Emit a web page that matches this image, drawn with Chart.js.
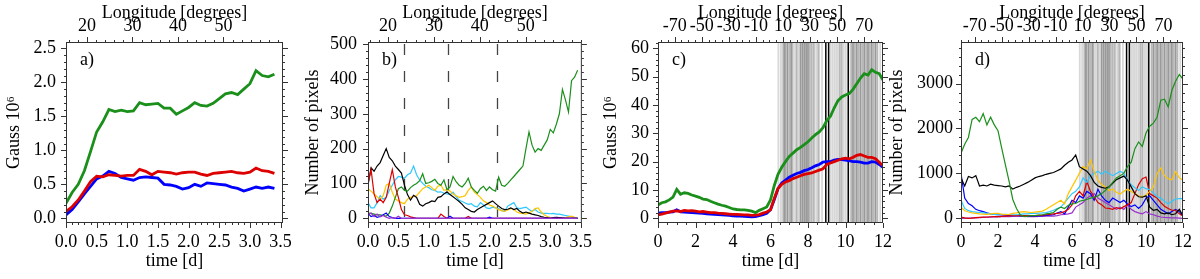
<!DOCTYPE html>
<html>
<head>
<meta charset="utf-8">
<script src="https://cdn.jsdelivr.net/npm/chart.js@4.4.1/dist/chart.umd.min.js"></script>
<style>
    body { margin: 0; background: #fff; width: 1200px; height: 279px; overflow: hidden; position: relative; }
    canvas { position: absolute; top: 0; }
</style>
</head>
<body>
<canvas id="panelA" width="300" height="279" style="left:0"></canvas>
<canvas id="panelB" width="300" height="279" style="left:300px"></canvas>
<canvas id="panelC" width="300" height="279" style="left:600px"></canvas>
<canvas id="panelD" width="315" height="279" style="left:885px"></canvas>
<script>
// Time axes (days)
const timesA = [0.0, 0.1, 0.2, 0.3, 0.4, 0.5, 0.6, 0.7, 0.8, 0.9, 1.0, 1.1, 1.2, 1.3, 1.4, 1.5, 1.6, 1.7,
    1.8, 1.9, 2.0, 2.1, 2.2, 2.3, 2.4, 2.5, 2.6, 2.7, 2.8, 2.9, 3.0, 3.1, 3.2, 3.3, 3.4];
const timesB = [0, 0.05, 0.1, 0.15, 0.2, 0.25, 0.3, 0.35, 0.4, 0.45, 0.5, 0.55, 0.6, 0.65, 0.7, 0.75, 0.8, 0.85,
    0.9, 0.95, 1.0, 1.05, 1.1, 1.15, 1.2, 1.25, 1.3, 1.35, 1.4, 1.45, 1.5, 1.55, 1.6, 1.65, 1.7, 1.75, 1.8, 1.85,
    1.9, 1.95, 2.0, 2.05, 2.1, 2.15, 2.2, 2.25, 2.3, 2.35, 2.4, 2.45, 2.5, 2.55, 2.6, 2.65, 2.7, 2.75, 2.8, 2.85,
    2.9, 2.95, 3.0, 3.05, 3.1, 3.15, 3.2, 3.25, 3.3, 3.35, 3.4, 3.45];
const timesCD = [0, 0.2, 0.4, 0.6, 0.8, 1.0, 1.2, 1.4, 1.6, 1.8, 2.0, 2.2, 2.4, 2.6, 2.8, 3.0, 3.2, 3.4, 3.6, 3.8,
    4.0, 4.2, 4.4, 4.6, 4.8, 5.0, 5.2, 5.4, 5.6, 5.8, 6.0, 6.2, 6.4, 6.6, 6.8, 7.0, 7.2, 7.4, 7.6, 7.8,
    8.0, 8.2, 8.4, 8.6, 8.8, 9.0, 9.2, 9.4, 9.6, 9.8, 10.0, 10.2, 10.4, 10.6, 10.8, 11.0, 11.2, 11.4, 11.6, 11.8, 12.0];

// Panel a) flux, Gauss 10^6
const greenA = [0.22, 0.38, 0.50, 0.70, 0.98, 1.27, 1.42, 1.60, 1.57, 1.59, 1.57, 1.58, 1.70, 1.67, 1.68, 1.69, 1.62, 1.62,
    1.53, 1.58, 1.63, 1.70, 1.66, 1.65, 1.69, 1.76, 1.83, 1.85, 1.82, 1.90, 1.98, 2.17, 2.10, 2.08, 2.12];
const redA = [0.10, 0.17, 0.27, 0.40, 0.54, 0.62, 0.61, 0.64, 0.63, 0.62, 0.63, 0.63, 0.72, 0.69, 0.64, 0.69, 0.68, 0.67,
    0.65, 0.67, 0.68, 0.68, 0.65, 0.63, 0.66, 0.67, 0.68, 0.69, 0.67, 0.66, 0.68, 0.74, 0.70, 0.69, 0.66];
const blueA = [0.05, 0.13, 0.24, 0.36, 0.47, 0.58, 0.62, 0.69, 0.66, 0.60, 0.58, 0.56, 0.60, 0.61, 0.60, 0.59, 0.50, 0.49,
    0.47, 0.43, 0.45, 0.50, 0.47, 0.52, 0.51, 0.50, 0.49, 0.46, 0.44, 0.40, 0.43, 0.46, 0.44, 0.46, 0.44];

// Panel b) number of pixels
const greenB = [15, 14, 12, 10, 10, 8, 6, 15, 35, 60, 85, 90, 80, 78, 88, 95, 100, 108, 128, 100,
    102, 106, 112, 100, 95, 110, 82, 90, 120, 105, 95, 90, 100, 115, 90, 80, 72, 85, 92, 80,
    90, 82, 78, 118, 95, 92, 100, 110, 120, 130, 140, 150, 200, 248, 210, 190, 200, 195, 210, 225,
    255, 245, 270, 300, 370, 340, 305, 395, 405, 425];
const blackB = [95, 145, 135, 150, 160, 180, 200, 175, 165, 150, 140, 130, 95, 68, 52, 66, 60, 40, 35, 42,
    45, 50, 48, 60, 62, 70, 76, 68, 62, 55, 48, 40, 30, 25, 20, 18, 25, 30, 35, 40,
    45, 50, 42, 35, 28, 25, 26, 30, 25, 28, 20, 15, 18, 15, 12, 10, 8, 5, 3, 2,
    0, 2, 3, 2, 1, 0, 0, 0, 0, 0];
const cyanB = [45, 30, 30, 45, 65, 55, 60, 80, 95, 110, 120, 118, 115, 125, 130, 150, 125, 110, 100, 92,
    88, 82, 80, 75, 76, 72, 70, 68, 75, 62, 52, 48, 44, 40, 42, 35, 33, 45, 38, 30,
    28, 32, 30, 28, 22, 20, 35, 40, 45, 30, 28, 30, 32, 25, 20, 25, 18, 15, 14, 14,
    13, 14, 12, 12, 10, 8, 6, 4, 2, 0];
const yellowB = [85, 78, 70, 62, 55, 65, 95, 100, 75, 55, 50, 45, 42, 55, 60, 62, 65, 75, 85, 90,
    95, 88, 80, 92, 95, 80, 82, 78, 70, 65, 60, 62, 65, 80, 90, 75, 68, 60, 50, 45,
    38, 35, 30, 25, 22, 20, 24, 28, 25, 18, 15, 14, 12, 15, 20, 28, 30, 18, 10, 5,
    2, 0, 0, 0, 0, 2, 4, 6, 3, 0];
const redB = [100, 140, 70, 45, 55, 45, 60, 100, 140, 90, 60, 25, 10, 8, 4, 2, 0, 0, 0, 0,
    0, 0, 0, 0, 12, 5, 0, 0, 0, 0, 0, 0, 0, 5, 0, 0, 0, 0, 0, 0,
    0, 0, 0, 0, 0, 0, 0, 0, 0, 0, 0, 0, 0, 0, 0, 0, 0, 0, 0, 0,
    0, 0, 0, 0, 0, 0, 0, 0, 0, 0];
const blueB = [15, 5, 8, 3, 5, 10, 15, 5, 2, 0, 0, 0, 0, 0, 0, 0, 0, 0, 0, 0,
    0, 0, 0, 0, 0, 0, 0, 6, 0, 0, 0, 0, 0, 0, 0, 0, 0, 0, 0, 0,
    3, 0, 0, 0, 0, 0, 0, 0, 0, 0, 0, 0, 0, 0, 0, 0, 0, 0, 0, 0,
    0, 0, 0, 0, 0, 0, 0, 0, 0, 0];
const purpleB = [10, 15, 5, 12, 4, 8, 3, 0, 2, 0, 6, 0, 0, 0, 0, 0, 0, 0, 0, 0,
    0, 0, 0, 0, 0, 0, 0, 0, 0, 0, 0, 0, 0, 0, 0, 0, 0, 0, 0, 0,
    0, 0, 0, 0, 0, 0, 0, 0, 0, 0, 0, 0, 0, 0, 0, 0, 0, 0, 0, 0,
    0, 0, 0, 0, 0, 0, 0, 0, 0, 0];
const dashTimesB = [0.6, 1.31, 2.12];

// Panel c) flux, Gauss 10^6
const greenC = [4.7, 5.5, 5.8, 6.5, 7.5, 10.2, 8.5, 9.0, 8.8, 8.2, 7.8, 7.4, 6.8, 6.6, 6.0, 5.5, 5.0, 4.6, 4.3, 3.8,
    3.3, 3.1, 3.0, 3.0, 2.8, 2.5, 2.0, 2.8, 3.4, 4.0, 6.5, 11.5, 15.5, 18.0, 20.0, 21.8, 23.0, 24.2, 25.0, 26.0,
    27.0, 28.3, 29.5, 30.5, 32.0, 34.5, 36.0, 39.0, 41.5, 42.8, 43.5, 44.0, 45.5, 47.5, 49.5, 51.0, 50.5, 52.4, 51.5, 51.0,
    48.8];
const redC = [1.2, 1.5, 1.8, 2.2, 2.5, 2.6, 2.4, 2.8, 2.6, 2.7, 2.5, 2.3, 2.4, 2.2, 2.0, 2.0, 1.8, 1.7, 1.6, 1.5,
    1.4, 1.4, 1.3, 1.2, 1.2, 1.0, 1.1, 1.3, 1.8, 2.2, 3.0, 7.0, 10.5, 12.0, 12.8, 13.3, 14.0, 14.5, 15.0, 15.5,
    15.8, 16.0, 16.5, 17.0, 17.5, 19.0, 19.5, 20.0, 20.5, 21.0, 21.2, 21.0, 21.5, 22.2, 22.5, 22.0, 21.5, 21.5, 21.0, 19.8,
    18.5];
const blueC = [1.8, 2.0, 2.0, 2.2, 2.3, 3.0, 2.3, 2.2, 2.1, 2.0, 1.9, 1.8, 1.7, 1.6, 1.5, 1.4, 1.3, 1.2, 1.1, 1.0,
    0.9, 0.8, 0.8, 0.7, 0.6, 0.5, 0.6, 0.9, 1.3, 1.8, 3.0, 6.5, 10.5, 12.5, 13.5, 14.5, 15.2, 15.8, 16.2, 16.8,
    17.2, 17.8, 18.5, 19.0, 19.8, 20.0, 20.0, 20.5, 20.8, 20.7, 20.5, 20.3, 20.0, 20.0, 19.8, 19.5, 19.5, 20.0, 19.8, 19.0,
    18.0];

// Panel d) number of pixels
const greenD = [1450, 1650, 1800, 2200, 2250, 2150, 2330, 2080, 2250, 2080, 1950, 1560, 1190, 820, 420, 220, 80, 40, 50, 60,
    60, 70, 80, 100, 110, 130, 200, 250, 220, 290, 320, 330, 380, 400, 420, 450, 470, 500, 550, 620,
    700, 800, 900, 950, 1000, 1150, 1250, 1550, 1700, 1600, 1900, 2050, 2120, 2250, 2630, 2650, 2480, 2850, 3050, 3200,
    3100];
const blackD = [900, 720, 930, 900, 950, 720, 740, 720, 760, 740, 730, 720, 700, 720, 650, 690, 720, 760, 800, 850,
    900, 930, 950, 980, 1000, 1020, 1060, 1100, 1180, 1250, 1300, 1410, 1150, 1100, 1050, 950, 800, 720, 690, 670,
    700, 780, 860, 900, 940, 850, 700, 550, 480, 470, 500, 250, 180, 200, 120, 100, 120, 80, 100, 200,
    60];
const yellowD = [250, 170, 140, 120, 110, 100, 95, 90, 100, 110, 110, 95, 85, 90, 110, 120, 140, 150, 140, 130,
    140, 150, 160, 200, 250, 300, 350, 400, 320, 550, 700, 850, 1000, 1150, 1100, 1300, 1050, 850, 750, 700,
    620, 650, 580, 540, 600, 650, 600, 550, 500, 480, 520, 600, 700, 1000, 1120, 950, 880, 860, 1040, 900,
    850];
const cyanD = [400, 220, 170, 150, 140, 130, 120, 110, 100, 90, 80, 85, 90, 85, 80, 80, 90, 100, 100, 110,
    110, 115, 120, 130, 150, 180, 220, 250, 350, 450, 550, 600, 700, 900, 800, 950, 1000, 1050, 980, 1050,
    1000, 950, 1000, 1050, 1000, 850, 750, 680, 620, 700, 660, 640, 560, 480, 450, 380, 320, 380, 430, 440,
    440];
const redD = [30, 10, 0, 5, 15, 20, 25, 30, 35, 40, 40, 45, 50, 55, 60, 60, 60, 60, 60, 60,
    60, 65, 70, 80, 90, 100, 110, 120, 150, 200, 300, 500, 600, 500, 820, 600, 480, 350, 300, 230,
    220, 200, 240, 210, 260, 300, 350, 550, 750, 880, 920, 550, 500, 450, 350, 270, 220, 180, 180, 100,
    50];
const blueD = [1000, 450, 330, 280, 200, 170, 150, 120, 100, 90, 80, 75, 70, 65, 60, 60, 55, 50, 50, 50,
    50, 55, 60, 65, 70, 80, 120, 150, 100, 250, 400, 350, 500, 450, 600, 550, 400, 650, 500, 400,
    350, 450, 400, 350, 400, 320, 260, 300, 220, 300, 450, 500, 400, 300, 200, 150, 100, 150, 200, 150,
    50];
const purpleD = [0, 0, 5, 10, 10, 15, 20, 20, 25, 30, 30, 35, 40, 40, 45, 50, 50, 45, 40, 40,
    40, 45, 45, 50, 50, 50, 60, 80, 90, 100, 120, 250, 300, 350, 450, 500, 550, 450, 400, 350,
    300, 250, 200, 250, 200, 300, 200, 150, 120, 100, 150, 100, 80, 50, 30, 20, 15, 10, 10, 5,
    0];

// Marked times (vertical lines) in panels c) and d)
const lightMarks = [6.42, 6.55, 6.62, 7.25, 7.35, 7.5, 8.35, 8.45, 8.6, 8.75, 9.2, 9.3, 9.4, 9.5, 9.6, 9.9, 10.0, 10.1, 11.85];
const midMarks = [6.7, 6.8, 7.0, 7.15, 7.4, 8.1, 8.2, 8.3, 8.55, 9.7, 9.8, 10.3, 10.5, 10.7, 10.9, 11.1, 11.3, 11.5, 11.7];
const darkMarks = [6.75, 6.9, 7.1, 7.6, 7.7, 7.8, 7.9, 8.0, 10.4, 10.6, 10.8, 11.0, 11.2, 11.4, 11.6];
const blackMarks = [8.95, 9.1, 10.15];

// Tick labels
const xTicksAB = [0, 0.5, 1, 1.5, 2, 2.5, 3, 3.5];
const xTicksCD = [0, 2, 4, 6, 8, 10, 12];
const lonTicksAB = [20, 30, 40, 50];
const lonTicksCD = [-70, -50, -30, -10, 10, 30, 50, 70];
const yTicksA = [0, 0.5, 1, 1.5, 2, 2.5];
const yTicksB = [0, 100, 200, 300, 400, 500];
const yTicksC = [0, 10, 20, 30, 40, 50, 60];
const yTicksD = [0, 1000, 2000, 3000];

const GREEN = '#1a8f1a', RED = '#dd0000', BLUE = '#0000ff', CYAN = '#2ec8ff',
      YELLOW = '#ffc400', PURPLE = '#9a32cd', BLACK = '#000000';
const FONT = { family: "'Liberation Serif', 'Times New Roman', serif", size: 18 };

function series(times, values, color, width) {
    return {
        data: times.map((t, i) => ({ x: t, y: values[i] })),
        borderColor: color, borderWidth: width,
        pointRadius: 0, tension: 0, fill: false,
        xAxisID: 'x', yAxisID: 'y'
    };
}

function fixedTicks(list) {
    return scale => { scale.ticks = list.map(v => ({ value: v })); };
}

function drawScaleTicks(ctx, a, scale, major, minor, sides) {
    const start = Math.ceil(scale.min / minor - 1e-6);
    for (let k = start; k * minor <= scale.max + 1e-9; k++) {
        const v = k * minor;
        const isMajor = major.some(m => Math.abs(m - v) < minor / 10);
        const len = isMajor ? 5 : 2;
        const p = Math.round(scale.getPixelForValue(v)) + 0.5;
        sides.forEach(side => {
            ctx.beginPath();
            if (side === 'bottom') { ctx.moveTo(p, a.bottom); ctx.lineTo(p, a.bottom + len); }
            if (side === 'top') { ctx.moveTo(p, a.top); ctx.lineTo(p, a.top - len); }
            if (side === 'left') { ctx.moveTo(a.left, p); ctx.lineTo(a.left - len, p); }
            if (side === 'right') { ctx.moveTo(a.right, p); ctx.lineTo(a.right + len, p); }
            ctx.stroke();
        });
    }
}

// Gray marks, dashed lines, frame, ticks and panel letter
const decor = {
    id: 'decor',
    beforeDatasetsDraw(chart, args, o) {
        const { ctx, chartArea: a, scales } = chart;
        ctx.save();
        ctx.beginPath();
        ctx.rect(a.left, a.top, a.right - a.left, a.bottom - a.top);
        ctx.clip();
        (o.marks || []).forEach(m => {
            ctx.strokeStyle = m.color;
            ctx.lineWidth = m.width;
            m.times.forEach(t => {
                const x = scales.x.getPixelForValue(t);
                ctx.beginPath();
                ctx.moveTo(x, a.top);
                ctx.lineTo(x, a.bottom);
                ctx.stroke();
            });
        });
        if (o.dashes) {
            ctx.strokeStyle = '#444';
            ctx.lineWidth = 1.3;
            ctx.setLineDash([11, 16]);
            o.dashes.forEach(t => {
                const x = Math.round(scales.x.getPixelForValue(t)) + 0.5;
                ctx.beginPath();
                ctx.moveTo(x, a.top + 2);
                ctx.lineTo(x, a.bottom);
                ctx.stroke();
            });
        }
        ctx.restore();
    },
    afterDraw(chart, args, o) {
        const { ctx, chartArea: a, scales } = chart;
        ctx.save();
        ctx.strokeStyle = '#333';
        ctx.lineWidth = 1;
        ctx.strokeRect(a.left + 0.5, a.top + 0.5, a.right - a.left - 1, a.bottom - a.top - 1);
        drawScaleTicks(ctx, a, scales.x, o.xMajor, o.xMinor, ['bottom']);
        drawScaleTicks(ctx, a, scales.x2, o.topMajor, o.topMinor, ['top']);
        drawScaleTicks(ctx, a, scales.y, o.yMajor, o.yMinor, ['left', 'right']);
        ctx.fillStyle = '#000';
        ctx.font = `${FONT.size}px ${FONT.family}`;
        ctx.textBaseline = 'middle';
        ctx.fillText(o.label, a.left + 14, a.top + 18);
        ctx.restore();
    }
};

function makePanel(id, p) {
    new Chart(document.getElementById(id), {
        type: 'line',
        data: { datasets: p.datasets },
        plugins: [decor],
        options: {
            responsive: false,
            animation: false,
            events: [],
            layout: { padding: { left: 0, right: p.rightPad, top: 0, bottom: 0 } },
            plugins: {
                legend: { display: false },
                tooltip: { enabled: false },
                decor: {
                    label: p.label, marks: p.marks, dashes: p.dashes,
                    xMajor: p.xTicks, xMinor: p.xMinor,
                    topMajor: p.lonTicks, topMinor: p.lonMinor,
                    yMajor: p.yTicks, yMinor: p.yMinor
                }
            },
            scales: {
                x: {
                    type: 'linear', position: 'bottom', min: p.xMin, max: p.xMax,
                    afterBuildTicks: fixedTicks(p.xTicks),
                    afterFit: s => { s.height = 56; },
                    grid: { display: false, drawTicks: false }, border: { display: false },
                    ticks: { font: FONT, color: '#000', padding: 8, maxRotation: 0, autoSkip: false, callback: p.xFmt },
                    title: { display: true, text: 'time [d]', font: FONT, color: '#000', padding: { top: 0, bottom: 7 } }
                },
                x2: {
                    type: 'linear', axis: 'x', position: 'top', min: p.lonMin, max: p.lonMax,
                    afterBuildTicks: fixedTicks(p.lonTicks),
                    afterFit: s => { s.height = 42; },
                    grid: { display: false, drawTicks: false }, border: { display: false },
                    ticks: { font: FONT, color: '#000', padding: 5, maxRotation: 0, autoSkip: false, callback: v => String(v) },
                    title: { display: true, text: 'Longitude [degrees]', font: FONT, color: '#000', padding: { top: 2, bottom: 0 } }
                },
                y: {
                    type: 'linear', position: 'left', min: p.yMin, max: p.yMax,
                    afterBuildTicks: fixedTicks(p.yTicks),
                    afterFit: s => { s.width = p.leftW; },
                    grid: { display: false, drawTicks: false }, border: { display: false },
                    ticks: { font: FONT, color: '#000', padding: p.yPad, autoSkip: false, callback: p.yFmt },
                    title: { display: true, text: p.yTitle, font: FONT, color: '#000', padding: { top: p.titlePad, bottom: 0 } }
                }
            }
        }
    });
}

const fmt1 = v => v.toFixed(1);
const fmt0 = v => String(v);
const marksCD = [
    { times: lightMarks, color: '#d8d8d8', width: 1.8 },
    { times: midMarks, color: '#b8b8b8', width: 1.8 },
    { times: darkMarks, color: '#9a9a9a', width: 1.8 },
    { times: blackMarks, color: '#000000', width: 1.5 }
];

makePanel('panelA', {
    label: 'a)', leftW: 66, rightPad: 5, yPad: 10, titlePad: 3,
    xMin: 0, xMax: 3.54, xTicks: xTicksAB, xMinor: 0.1, xFmt: fmt1,
    lonMin: 15.4, lonMax: 63.1, lonTicks: lonTicksAB, lonMinor: 2,
    yMin: -0.069, yMax: 2.593, yTicks: yTicksA, yMinor: 0.1, yFmt: fmt1,
    yTitle: 'Gauss 10\u2076',
    datasets: [
        series(timesA, greenA, GREEN, 2.8),
        series(timesA, redA, RED, 2.8),
        series(timesA, blueA, BLUE, 2.8)
    ]
});

makePanel('panelB', {
    label: 'b)', leftW: 68, rightPad: 7, yPad: 11, titlePad: 2,
    xMin: 0, xMax: 3.52, xTicks: xTicksAB, xMinor: 0.1, xFmt: fmt1,
    lonMin: 15.65, lonMax: 62.2, lonTicks: lonTicksAB, lonMinor: 2,
    yMin: -13.5, yMax: 506, yTicks: yTicksB, yMinor: 20, yFmt: fmt0,
    yTitle: 'Number of pixels', dashes: dashTimesB,
    datasets: [
        series(timesB, purpleB, PURPLE, 1.2),
        series(timesB, blueB, BLUE, 1.2),
        series(timesB, redB, RED, 1.2),
        series(timesB, greenB, GREEN, 1.2),
        series(timesB, blackB, BLACK, 1.2),
        series(timesB, yellowB, YELLOW, 1.2),
        series(timesB, cyanB, CYAN, 1.2)
    ]
});

makePanel('panelC', {
    label: 'c)', leftW: 58, rightPad: 13, yPad: 9, titlePad: 0,
    xMin: 0, xMax: 12, xTicks: xTicksCD, xMinor: 0.5, xFmt: fmt0,
    lonMin: -82.3, lonMax: 83.8, lonTicks: lonTicksCD, lonMinor: 5,
    yMin: -1.66, yMax: 62.2, yTicks: yTicksC, yMinor: 2, yFmt: fmt0,
    yTitle: 'Gauss 10\u2076', marks: marksCD,
    datasets: [
        series(timesCD, greenC, GREEN, 2.8),
        series(timesCD, redC, RED, 2.8),
        series(timesCD, blueC, BLUE, 2.8)
    ]
});

makePanel('panelD', {
    label: 'd)', leftW: 76, rightPad: 12, yPad: 8, titlePad: 1,
    xMin: 0, xMax: 12, xTicks: xTicksCD, xMinor: 0.5, xFmt: fmt0,
    lonMin: -80.2, lonMax: 84.5, lonTicks: lonTicksCD, lonMinor: 5,
    yMin: -104, yMax: 3925, yTicks: yTicksD, yMinor: 200, yFmt: fmt0,
    yTitle: 'Number of pixels', marks: marksCD,
    datasets: [
        series(timesCD, greenD, GREEN, 1.2),
        series(timesCD, blackD, BLACK, 1.2),
        series(timesCD, yellowD, YELLOW, 1.2),
        series(timesCD, cyanD, CYAN, 1.2),
        series(timesCD, redD, RED, 1.2),
        series(timesCD, blueD, BLUE, 1.2),
        series(timesCD, purpleD, PURPLE, 1.2)
    ]
});
</script>
</body>
</html>
